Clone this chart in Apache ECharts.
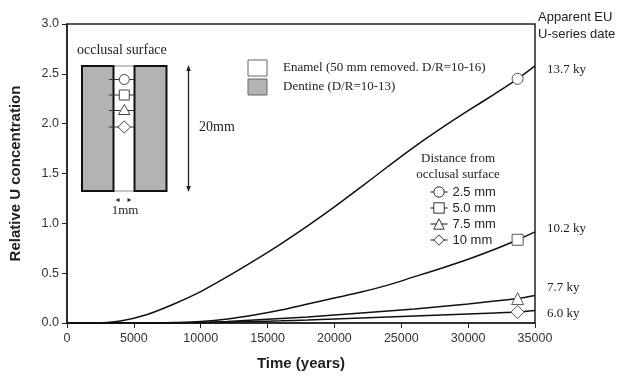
<!DOCTYPE html>
<html><head><meta charset="utf-8">
<script src="https://cdn.jsdelivr.net/npm/echarts@6/dist/echarts.min.js"></script>
<style>html,body{margin:0;padding:0;background:#fff}#c{width:624px;height:378px}</style>
</head><body><div id="c"></div>
<script>
// ---- data ----
const times = [0, 2000, 4000, 6000, 8000, 10000, 12000, 14000, 16000, 18000, 20000, 22000, 24000, 26000, 28000, 30000, 32000, 33700, 35000];
const u25 = [0, 0, 0.02, 0.085, 0.19, 0.315, 0.465, 0.625, 0.795, 0.975, 1.165, 1.365, 1.57, 1.77, 1.955, 2.13, 2.30, 2.45, 2.58];
const u50 = [0, 0, 0, 0, 0.005, 0.015, 0.04, 0.08, 0.13, 0.19, 0.25, 0.31, 0.38, 0.465, 0.55, 0.64, 0.74, 0.835, 0.915];
const u75 = [0, 0, 0, 0, 0, 0.005, 0.015, 0.03, 0.045, 0.06, 0.08, 0.10, 0.12, 0.14, 0.165, 0.19, 0.22, 0.245, 0.275];
const u10 = [0, 0, 0, 0, 0, 0.002, 0.008, 0.015, 0.022, 0.03, 0.04, 0.05, 0.06, 0.07, 0.08, 0.09, 0.10, 0.11, 0.125];
const markerTime = 33700;
const seriesNames = ['2.5 mm', '5.0 mm', '7.5 mm', '10 mm'];
const seriesSymbols = ['circle', 'rect', 'triangle', 'diamond'];
const dateLabels = ['13.7 ky', '10.2 ky', '7.7 ky', '6.0 ky'];

const SANS = 'Liberation Sans, Arial, sans-serif';
const SERIF = 'Liberation Serif, Times New Roman, serif';
const GRAY = '#b3b3b3';

const allVals = [u25, u50, u75, u10];
const markerSizes = [11, 11, 12, 13];
const series = allVals.map((vals, i) => ({
  name: seriesNames[i],
  type: 'line',
  symbol: seriesSymbols[i],
  symbolSize: 0,
  showSymbol: true,
  showAllSymbol: true,
  smooth: 0.3,
  animation: false,
  z: 3,
  lineStyle: { color: '#111', width: 1.5 },
  itemStyle: { color: '#fff', borderColor: '#555', borderWidth: 1 },
  emphasis: { disabled: true },
  data: times.map((t, k) => t === markerTime
    ? { value: [t, vals[k]], symbolSize: markerSizes[i] }
    : [t, vals[k]])
}));

const chart = echarts.init(document.getElementById('c'), null, { renderer: 'canvas' });

const g = [];
// inset diagram
g.push({ type: 'text', x: 77, y: 50, style: { text: 'occlusal surface', font: '14px ' + SERIF, fill: '#222', verticalAlign: 'middle' } });
g.push({ type: 'rect', shape: { x: 113, y: 66, width: 21.5, height: 125 }, style: { fill: '#fff', stroke: '#888', lineWidth: 1 } });
g.push({ type: 'rect', shape: { x: 82, y: 66, width: 31.5, height: 125 }, style: { fill: GRAY, stroke: '#111', lineWidth: 2 } });
g.push({ type: 'rect', shape: { x: 134.5, y: 66, width: 32, height: 125 }, style: { fill: GRAY, stroke: '#111', lineWidth: 2 } });
const insetY = [79.5, 95, 110.5, 127];
insetY.forEach(y => g.push({ type: 'line', shape: { x1: 109, y1: y, x2: 134, y2: y }, style: { stroke: '#333', lineWidth: 1 } }));
g.push({ type: 'circle', shape: { cx: 124.3, cy: 79.5, r: 5 }, style: { fill: '#fff', stroke: '#444', lineWidth: 1 } });
g.push({ type: 'rect', shape: { x: 119.3, y: 90, width: 10, height: 10 }, style: { fill: '#fff', stroke: '#444', lineWidth: 1 } });
g.push({ type: 'polygon', shape: { points: [[124.3, 104.5], [118.5, 114.5], [130, 114.5]] }, style: { fill: '#fff', stroke: '#444', lineWidth: 1 } });
g.push({ type: 'polygon', shape: { points: [[124.3, 121], [130.5, 127], [124.3, 133], [118, 127]] }, style: { fill: '#fff', stroke: '#444', lineWidth: 1 } });
// 20mm arrow
g.push({ type: 'line', shape: { x1: 188.5, y1: 68, x2: 188.5, y2: 189 }, style: { stroke: '#222', lineWidth: 1.3 } });
g.push({ type: 'polygon', shape: { points: [[188.5, 65], [186.2, 71], [190.8, 71]] }, style: { fill: '#222' } });
g.push({ type: 'polygon', shape: { points: [[188.5, 192], [186.2, 186], [190.8, 186]] }, style: { fill: '#222' } });
g.push({ type: 'text', x: 199, y: 127, style: { text: '20mm', font: '14px ' + SERIF, fill: '#222', verticalAlign: 'middle' } });
// 1mm arrows
g.push({ type: 'polygon', shape: { points: [[115.5, 200], [119.5, 198], [119.5, 202]] }, style: { fill: '#222' } });
g.push({ type: 'polygon', shape: { points: [[131.5, 200], [127.5, 198], [127.5, 202]] }, style: { fill: '#222' } });
g.push({ type: 'text', x: 125, y: 211, style: { text: '1mm', font: '13px ' + SERIF, fill: '#222', align: 'center', verticalAlign: 'middle' } });
// enamel / dentine legend
g.push({ type: 'rect', shape: { x: 248, y: 60, width: 19, height: 16 }, style: { fill: '#fff', stroke: '#666', lineWidth: 1 } });
g.push({ type: 'rect', shape: { x: 248, y: 79, width: 19, height: 16 }, style: { fill: GRAY, stroke: '#666', lineWidth: 1 } });
g.push({ type: 'text', x: 283, y: 68, style: { text: 'Enamel (50 mm removed. D/R=10-16)', font: '13px ' + SERIF, fill: '#222', verticalAlign: 'middle' } });
g.push({ type: 'text', x: 283, y: 87, style: { text: 'Dentine (D/R=10-13)', font: '13px ' + SERIF, fill: '#222', verticalAlign: 'middle' } });
// distance legend title
g.push({ type: 'text', x: 458, y: 159, style: { text: 'Distance from', font: '13px ' + SERIF, fill: '#222', align: 'center', verticalAlign: 'middle' } });
g.push({ type: 'text', x: 458, y: 175, style: { text: 'occlusal surface', font: '13px ' + SERIF, fill: '#222', align: 'center', verticalAlign: 'middle' } });
// right labels
g.push({ type: 'text', x: 538, y: 17, style: { text: 'Apparent EU', font: '13px ' + SANS, fill: '#222', verticalAlign: 'middle' } });
g.push({ type: 'text', x: 538, y: 34, style: { text: 'U-series date', font: '13px ' + SANS, fill: '#222', verticalAlign: 'middle' } });
const dateY = [70, 229, 288, 314];
dateLabels.forEach((t, i) => g.push({ type: 'text', x: 547, y: dateY[i], style: { text: t, font: '13px ' + SERIF, fill: '#222', verticalAlign: 'middle' } }));

chart.setOption({
  animation: false,
  backgroundColor: '#fff',
  grid: { left: 67, right: 89, top: 24, bottom: 55, show: true, borderColor: '#222', borderWidth: 1.5, backgroundColor: 'transparent' },
  xAxis: {
    type: 'value', min: 0, max: 35000, interval: 5000,
    name: 'Time (years)', nameLocation: 'middle', nameGap: 33,
    nameTextStyle: { fontFamily: SANS, fontWeight: 'bold', fontSize: 15, color: '#222' },
    axisLine: { show: true, lineStyle: { color: '#222', width: 1.5 } },
    axisTick: { show: true, length: 5, lineStyle: { color: '#222' } },
    axisLabel: { margin: 9, fontFamily: SANS, fontSize: 12.5, color: '#333', showMaxLabel: true, showMinLabel: true, formatter: v => String(v) },
    splitLine: { show: false }
  },
  yAxis: {
    type: 'value', min: 0, max: 3, interval: 0.5,
    name: 'Relative U concentration', nameLocation: 'middle', nameGap: 44,
    nameTextStyle: { fontFamily: SANS, fontWeight: 'bold', fontSize: 15, color: '#222' },
    axisLine: { show: true, lineStyle: { color: '#222', width: 1.5 } },
    axisTick: { show: true, length: 5, lineStyle: { color: '#222' } },
    axisLabel: { margin: 8, fontFamily: SANS, fontSize: 12.5, color: '#333', formatter: v => v.toFixed(1) },
    splitLine: { show: false }
  },
  legend: {
    orient: 'vertical', left: 430, top: 185.5, padding: 0,
    itemWidth: 17, itemHeight: 13, itemGap: 3,
    itemStyle: { borderWidth: 1, borderColor: '#333' },
    lineStyle: { width: 1 },
    textStyle: { fontFamily: SANS, fontSize: 13, color: '#222', lineHeight: 13 },
    data: seriesNames,
    selectedMode: false
  },
  graphic: g,
  series: series
});
</script>
</body></html>
